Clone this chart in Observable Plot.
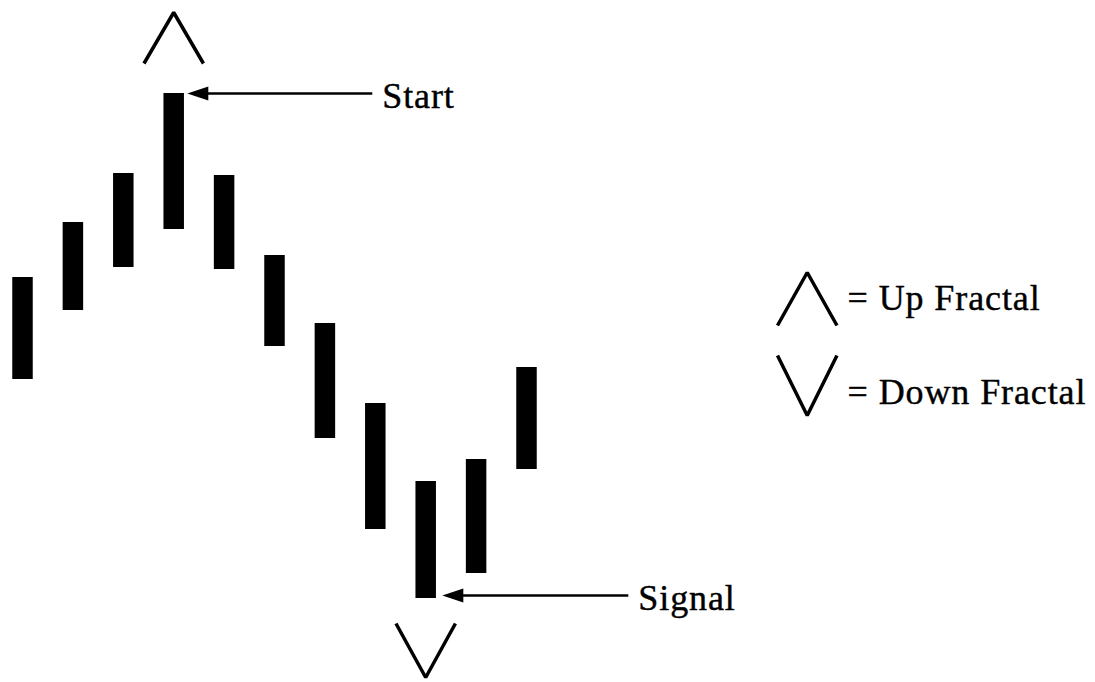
<!DOCTYPE html>
<html>
<head>
<meta charset="utf-8">
<script src="https://cdn.jsdelivr.net/npm/d3@7"></script>
<script src="https://cdn.jsdelivr.net/npm/@observablehq/plot@0.6"></script>
<style>
  html, body { margin: 0; padding: 0; background: #fff; }
  #chart { width: 1095px; height: 682px; }
</style>
</head>
<body>
<div id="chart"></div>
<script>
// ---- Data (bar index, high, low in price units) ----
const barIndex = [1, 2, 3, 4, 5, 6, 7, 8, 9, 10, 11];
const barHigh  = [40.5, 46.0, 50.9, 58.9, 50.7, 42.7, 35.9, 27.9, 20.1, 22.3, 31.5];
const barLow   = [30.3, 37.2, 41.5, 45.3, 41.3, 33.6, 24.4, 15.3, 8.4, 10.9, 21.3];

// fractal markers
const upFractalBar = 4;
const downFractalBar = 9;

// annotations
const annLabels = ["Start", "Signal"];
const annTipX   = [4.27, 9.33];
const annTailX  = [7.94, 13.02];
const annY      = [58.9, 8.7];

// legend
const legendLabels = ["= Up Fractal", "= Down Fractal"];
const legendKinds  = ["up", "down"];
const legendSymX   = 16.57;
const legendSymY   = [[35.7, 41.0], [32.7, 26.7]];   // [arm, apex]
const legendTextX  = 17.37;
const legendTextY  = [37.3, 27.9];

// ---- Build tables ----
const bars = barIndex.map((i, k) => ({i, high: barHigh[k], low: barLow[k]}));
const hw = 0.59;
const upB = bars.find(d => d.i === upFractalBar);
const dnB = bars.find(d => d.i === downFractalBar);
const chevrons = [
  {g: "up", x: upB.i - hw, y: upB.high + 3.0},
  {g: "up", x: upB.i,      y: upB.high + 8.1},
  {g: "up", x: upB.i + hw, y: upB.high + 3.0},
  {g: "dn", x: dnB.i - hw, y: dnB.low - 2.5},
  {g: "dn", x: dnB.i,      y: dnB.low - 7.9},
  {g: "dn", x: dnB.i + hw, y: dnB.low - 2.5}
];
legendKinds.forEach((k, j) => {
  const [arm, apex] = legendSymY[j];
  chevrons.push({g: "l" + k, x: legendSymX - hw, y: arm});
  chevrons.push({g: "l" + k, x: legendSymX,      y: apex});
  chevrons.push({g: "l" + k, x: legendSymX + hw, y: arm});
});
const anns = annLabels.map((t, k) => ({text: t, tip: annTipX[k], tail: annTailX[k], y: annY[k]}));
const legend = legendLabels.map((t, k) => ({text: t, x: legendTextX, y: legendTextY[k]}));

const arrowHead = {
  draw(ctx) {
    ctx.moveTo(0, 0);
    ctx.lineTo(21, -7);
    ctx.lineTo(21, 7);
    ctx.closePath();
  }
};

const font = "Liberation Serif, Times New Roman, serif";

const chart = Plot.plot({
  width: 1095,
  height: 682,
  marginTop: 0, marginRight: 0, marginBottom: 0, marginLeft: 0,
  style: "background:#fff; letter-spacing:0.9px;",
  x: {domain: [1, 11], range: [22, 526], axis: null},
  y: {domain: [0, 68.2], range: [682, 0], axis: null},
  marks: [
    Plot.ruleX(bars, {x: "i", y1: "low", y2: "high", stroke: "black", strokeWidth: 20.5}),
    Plot.line(chevrons, {x: "x", y: "y", z: "g", stroke: "black", strokeWidth: 3.5, strokeLinejoin: "miter", strokeLinecap: "butt"}),
    Plot.link(anns, {x1: "tail", x2: d => d.tip + 0.3, y1: "y", y2: "y", stroke: "black", strokeWidth: 2.6}),
    Plot.dot(anns, {x: "tip", y: "y", symbol: arrowHead, fill: "black", stroke: "none"}),
    Plot.text(anns, {x: "tail", y: "y", text: "text", textAnchor: "start", lineAnchor: "bottom", dx: 10, dy: 14, fontSize: 36, fontFamily: font, fill: "black", stroke: "black", strokeWidth: 0.4}),
    Plot.text(legend, {x: "x", y: "y", text: "text", textAnchor: "start", lineAnchor: "bottom", fontSize: 36, fontFamily: font, fill: "black", stroke: "black", strokeWidth: 0.4})
  ]
});
document.getElementById("chart").appendChild(chart);
</script>
</body>
</html>
